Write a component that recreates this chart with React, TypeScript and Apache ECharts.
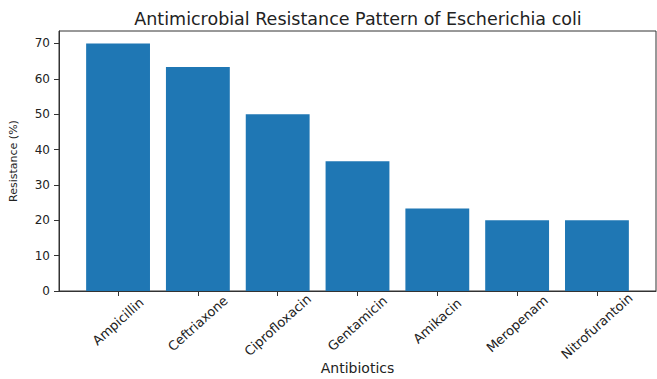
import React, { useEffect, useRef } from "react";
import * as echarts from "echarts";

const categories = ["Ampicillin", "Ceftriaxone", "Ciprofloxacin", "Gentamicin", "Amikacin", "Meropenam", "Nitrofurantoin"];
const resistance = [70, 63.3, 50, 36.7, 23.3, 20, 20];
const yTicks = [0, 10, 20, 30, 40, 50, 60, 70];
const xPositions = [0, 1, 2, 3, 4, 5, 6];

const FONT = "DejaVu Sans";
const X_LABEL_SIZE = 13;
const ROT = 42;

function measure(text: string, size: number): number {
  const c = document.createElement("canvas");
  const ctx = c.getContext("2d");
  if (!ctx) return text.length * size * 0.6;
  ctx.font = `${size}px "${FONT}"`;
  return ctx.measureText(text).width;
}

export default function App() {
  const ref = useRef<HTMLDivElement>(null);
  useEffect(() => {
    if (!ref.current) return;
    const chart = echarts.init(ref.current, undefined, { renderer: "svg" });
    const r = (ROT * Math.PI) / 180;
    const rich: Record<string, any> = {};
    categories.forEach((c, i) => {
      const w = measure(c, X_LABEL_SIZE);
      const T = (w * Math.sin(r) * Math.cos(r)) / 2;
      const R = (w * Math.sin(r) * Math.sin(r)) / 2;
      rich["l" + i] = {
        fontFamily: FONT,
        fontSize: X_LABEL_SIZE,
        color: "#222",
        padding: [T, R, 0, 0],
      };
    });
    chart.setOption({
      animation: false,
      backgroundColor: "#ffffff",
      title: {
        text: "Antimicrobial Resistance Pattern of Escherichia coli",
        left: 358,
        textAlign: "center",
        top: 10,
        padding: 0,
        textStyle: { fontFamily: FONT, fontSize: 17.5, fontWeight: "normal", color: "#222" },
      },
      grid: {
        left: 59,
        right: 1,
        top: 31,
        bottom: 88,
        show: true,
        borderColor: "#333",
        borderWidth: 1,
        containLabel: false,
        outerBoundsMode: "none",
      },
      xAxis: {
        type: "value",
        min: -0.74,
        max: 6.74,
        name: "Antibiotics",
        nameLocation: "middle",
        nameGap: 70,
        nameMoveOverlap: false,
        nameTextStyle: { fontFamily: FONT, fontSize: 14, color: "#222", verticalAlign: "top" },
        axisLine: { show: true, onZero: false, lineStyle: { color: "#333", width: 1 } },
        axisTick: { show: true, length: 5, customValues: xPositions, lineStyle: { color: "#333" } },
        splitLine: { show: false },
        axisLabel: {
          customValues: xPositions,
          rotate: ROT,
          align: "center",
          verticalAlign: "middle",
          margin: 20,
          formatter: (v: number) => {
            const i = Math.round(v);
            return `{l${i}|${categories[i]}}`;
          },
          rich,
        },
      },
      yAxis: {
        type: "value",
        min: 0,
        max: 73.5,
        name: "Resistance (%)",
        nameLocation: "middle",
        nameGap: 40,
        nameMoveOverlap: false,
        nameTextStyle: { fontFamily: FONT, fontSize: 11, color: "#222" },
        axisLine: { show: true, onZero: false, lineStyle: { color: "#333", width: 1 } },
        axisTick: { show: true, length: 5, customValues: yTicks, lineStyle: { color: "#333" } },
        splitLine: { show: false },
        axisLabel: {
          customValues: yTicks,
          margin: 9,
          fontFamily: FONT,
          fontSize: 12,
          color: "#222",
        },
      },
      series: [
        {
          type: "bar",
          data: resistance.map((v, i) => [xPositions[i], v]),
          barWidth: "80%",
          itemStyle: { color: "#1f77b4" },
        },
      ],
    });
    return () => chart.dispose();
  }, []);
  return <div ref={ref} style={{ width: 657, height: 379, position: "absolute", left: 0, top: 0 }} />;
}
